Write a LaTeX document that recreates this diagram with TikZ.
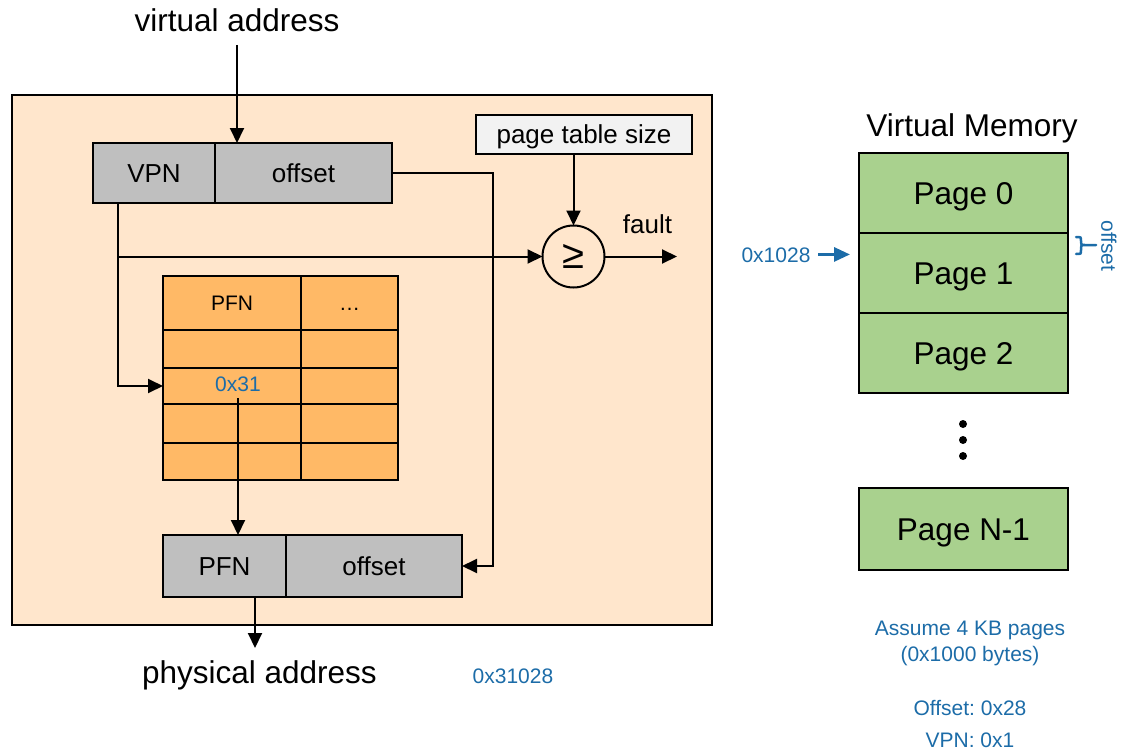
\documentclass[tikz,border=0pt]{standalone}
\usepackage{fontspec}
\setmainfont{Liberation Sans}
\usetikzlibrary{arrows.meta,calc}
\definecolor{cBlue}{RGB}{28,108,168}
\definecolor{cBg}{RGB}{255,230,204}
\definecolor{cGray}{RGB}{191,191,191}
\definecolor{cLight}{RGB}{242,242,242}
\definecolor{cOrange}{RGB}{255,185,102}
\definecolor{cGreen}{RGB}{169,209,142}
\newcommand{\fBig}{\fontsize{31.5}{36}\selectfont}
\newcommand{\fMid}{\fontsize{26}{30}\selectfont}
\newcommand{\fSm}{\fontsize{21}{25}\selectfont}
\frenchspacing
\begin{document}
\begin{tikzpicture}[x=1pt,y=-1pt,
  every node/.style={inner sep=0pt, outer sep=0pt},
  lblB/.style={font=\fBig, text height=22.7pt, text depth=0pt, align=center},
  lblM/.style={font=\fMid, text height=18.7pt, text depth=0pt, align=center},
  lblS/.style={font=\fSm, text height=15.1pt, text depth=0pt, align=center},
  field/.style={draw, line width=2pt, fill=cGray, minimum height=60, lblM},
  cell/.style={draw, line width=2pt, fill=cOrange, lblS},
  page/.style={draw, line width=2pt, fill=cGreen, minimum width=209, minimum height=80, lblB},
  arr/.style={line width=2pt, -{Triangle[length=15pt,width=14pt]}},
  barr/.style={cBlue, line width=3pt, -{Triangle[length=16pt,width=14pt]}},
  blue/.style={text=cBlue, lblS}
]
\useasboundingbox (0,0) rectangle (1122,752);

% frame
\node[draw, line width=1.6pt, fill=cBg, minimum width=700, minimum height=530] (frame) at (362,360) {};

% virtual address
\node[lblB, anchor=base] (va) at (237,32) {virtual address};
\node[field, minimum width=122] (vpn) at (154,173) {VPN};
\node[field, minimum width=177] (voff) at (303.5,173) {offset};

% page table size and comparator
\node[draw, line width=2pt, fill=cLight, minimum width=216, minimum height=39, lblM] (pts) at (584,134.5) {page table size};
\node[circle, draw, line width=2pt, minimum size=62, font=\fontsize{40}{44}\selectfont] (cmp) at (573.5,256.5) {≥};
\node[lblM, anchor=base] (flt) at (647.5,233) {fault};
\coordinate (fo) at (677,256.5);

% page table
\node[cell, minimum width=138, minimum height=54] (t1a) at (232,303) {PFN};
\node[cell, minimum width=97, minimum height=54] (t1b) at (349.5,303) {…};
\node[cell, minimum width=138, minimum height=38] (t2a) at (232,349) {};
\node[cell, minimum width=97, minimum height=38] (t2b) at (349.5,349) {};
\node[cell, minimum width=138, minimum height=36] (t3a) at (232,386) {};
\node[cell, minimum width=97, minimum height=36] (t3b) at (349.5,386) {};
\node[cell, minimum width=138, minimum height=39] (t4a) at (232,423.5) {};
\node[cell, minimum width=97, minimum height=39] (t4b) at (349.5,423.5) {};
\node[cell, minimum width=138, minimum height=37] (t5a) at (232,461.5) {};
\node[cell, minimum width=97, minimum height=37] (t5b) at (349.5,461.5) {};
\node[blue, anchor=base] (v31) at (238,391) {0x31};

% physical address
\node[field, minimum width=123, minimum height=62] (ppfn) at (224.5,566) {PFN};
\node[field, minimum width=176, minimum height=62] (poff) at (374,566) {offset};
\node[lblB, anchor=base] (pa) at (259.5,683) {physical address};
\coordinate (paIn) at (255,648);
\node[blue, anchor=base] (res) at (513,683) {0x31028};

% connectors
\draw[arr] ([yshift=-13pt]va.south) -- (va.south |- voff.north);
\coordinate (vx) at ([xshift=25pt]vpn.south west);
\draw[arr] (vx) |- (t3a.west);
\draw[arr] (vx |- cmp.west) -- (cmp.west);
\draw[arr] (voff.east) -| ([xshift=31pt]poff.east) -- (poff.east);
\draw[arr] (pts.south -| cmp.north) -- (cmp.north);
\draw[arr] (cmp.east) -- (fo);
\draw[arr] ([yshift=-7pt]v31.south) -- (v31.south |- ppfn.north);
\draw[arr] (paIn |- ppfn.south) -- (paIn);

% virtual memory
\node[lblB, anchor=base] (vmt) at (972,136) {Virtual Memory};
\node[page] (p0) at (963.5,193) {Page 0};
\node[page] (p1) at (963.5,273) {Page 1};
\node[page] (p2) at (963.5,353) {Page 2};
\node[page, minimum height=82] (pn) at (963.5,529) {Page N-1};
\fill (963,424) circle (4);
\fill (963,440) circle (4);
\fill (963,456) circle (4);

\node[blue, anchor=base] (addr) at (776,262) {0x1028};
\draw[barr] ([xshift=8pt]addr.east) -- ([xshift=-9pt]addr.east -| p1.west);
% brace marking the offset
\draw[cBlue, line width=2.5pt, line cap=round]
  (1076,237) .. controls (1081,237) .. (1081,241) -- (1081,242)
  .. controls (1081,245) .. (1085,245) -- (1096,245)
  (1085,245) .. controls (1081,245) .. (1081,248) -- (1081,250)
  .. controls (1081,254) .. (1076,254);
\node[blue, rotate=-90] (offl) at (1109,246) {offset};

\node[blue, anchor=base] (n1) at (970,635) {Assume 4 KB pages};
\node[blue, anchor=base] (n2) at (970,661) {(0x1000 bytes)};
\node[blue, anchor=base] (n3) at (970,715) {Offset: 0x28};
\node[blue, anchor=base] (n4) at (970,747) {VPN: 0x1};
\end{tikzpicture}
\end{document}
